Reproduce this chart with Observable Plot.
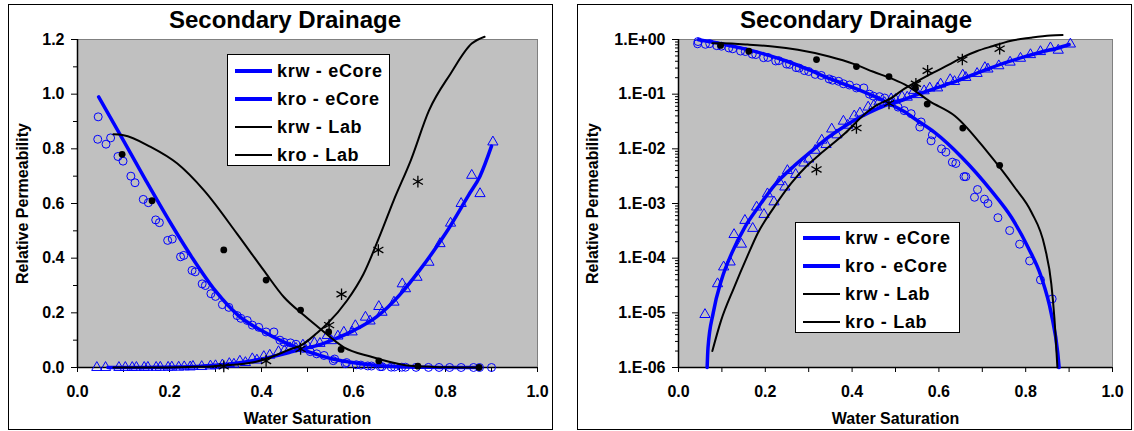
<!DOCTYPE html>
<html><head><meta charset="utf-8">
<script src="https://cdn.jsdelivr.net/npm/d3@7"></script>
<script src="https://cdn.jsdelivr.net/npm/@observablehq/plot@0.6"></script>
<style>
html,body{margin:0;padding:0;background:#fff;}
body{width:1134px;height:431px;position:relative;overflow:hidden;font-family:"Liberation Sans",Arial,sans-serif;font-weight:bold;color:#000;}
.panel{position:absolute;top:4px;height:426px;border:1px solid #000;box-sizing:border-box;}
.title{position:absolute;top:6px;font-size:24px;text-align:center;white-space:nowrap;transform:translateX(-50%);}
.chart{position:absolute;top:30px;}
.legend{position:absolute;background:#fff;border:1px solid #000;box-sizing:border-box;}
.legend .row{position:absolute;left:0;height:28px;width:100%;}
.legend .sw{position:absolute;left:7px;width:37px;top:50%;}
.legend .lab{position:absolute;left:49px;top:50%;transform:translateY(-50%);font-size:18px;white-space:nowrap;letter-spacing:0.7px;}
</style>
</head><body>
<div class="panel" style="left:8px;width:545px"></div>
<div class="panel" style="left:577px;width:555px"></div>
<div id="c1" class="chart" style="left:0px;width:560px"></div>
<div id="c2" class="chart" style="left:570px;width:564px"></div>
<script>
// ---- text ----
const chartTitle = "Secondary Drainage";
const xLabel = "Water Saturation";
const yLabel = "Relative Permeability";
const seriesNames = ["krw - eCore", "kro - eCore", "krw - Lab", "kro - Lab"];
const xTicks = [0, 0.1, 0.2, 0.3, 0.4, 0.5, 0.6, 0.7, 0.8, 0.9, 1.0];
const xTickLabels = ["0.0", "", "0.2", "", "0.4", "", "0.6", "", "0.8", "", "1.0"];
const yLinTicks = [0, 0.2, 0.4, 0.6, 0.8, 1.0, 1.2];
const yLinTickLabels = ["0.0", "0.2", "0.4", "0.6", "0.8", "1.0", "1.2"];
const yLinMinorTicks = [0.1, 0.3, 0.5, 0.7, 0.9, 1.1];
const yLogTicks = [1e-6, 1e-5, 1e-4, 1e-3, 1e-2, 1e-1, 1];
const yLogTickLabels = ["1.E-06", "1.E-05", "1.E-04", "1.E-03", "1.E-02", "1.E-01", "1.E+00"];
const yLogMinorMultipliers = [2, 3, 4, 5, 6, 7, 8, 9];

// ---- data: [water saturation, relative permeability] ----
const ecoreKrwLine = [[0.066,1e-6],[0.068,2.3e-6],[0.080,1.0e-5],[0.099,4e-5],[0.122,1.2e-4],[0.153,3.7e-4],[0.184,8.6e-4],[0.222,2.2e-3],[0.268,5e-3],[0.306,9e-3],[0.344,0.016],[0.383,0.026],[0.421,0.039],[0.46,0.055],[0.484,0.066],[0.52,0.08],[0.56,0.105],[0.6,0.135],[0.65,0.185],[0.7,0.265],[0.75,0.37],[0.8,0.49],[0.85,0.63],[0.875,0.70],[0.9,0.81]];
const ecoreKroLine = [[0.046,0.99],[0.10,0.83],[0.15,0.68],[0.20,0.535],[0.25,0.40],[0.30,0.28],[0.35,0.19],[0.40,0.135],[0.45,0.092],[0.484,0.068],[0.52,0.048],[0.55,0.033],[0.59,0.020],[0.652,0.0071],[0.721,1.7e-3],[0.767,5.6e-4],[0.805,1.6e-4],[0.836,4.5e-5],[0.859,9.6e-6],[0.874,1.8e-6],[0.877,1e-6]];
const labKrwLine = [[0.078,2e-6],[0.098,7.2e-6],[0.128,2.9e-5],[0.159,1.1e-4],[0.182,2.8e-4],[0.220,8.5e-4],[0.259,2.3e-3],[0.297,5.0e-3],[0.322,7.5e-3],[0.383,0.019],[0.43,0.044],[0.46,0.065],[0.485,0.080],[0.52,0.125],[0.543,0.16],[0.586,0.245],[0.622,0.343],[0.659,0.49],[0.687,0.61],[0.725,0.76],[0.764,0.94],[0.811,1.075],[0.857,1.185],[0.885,1.21]];
const labKroLine = [[0.078,0.853],[0.10,0.85],[0.159,0.807],[0.217,0.746],[0.275,0.648],[0.347,0.489],[0.405,0.355],[0.449,0.257],[0.493,0.19],[0.528,0.141],[0.579,0.074],[0.637,0.040],[0.713,0.0085],[0.774,2.0e-3],[0.813,7e-4],[0.844,1.6e-4],[0.859,3.4e-5],[0.866,8.3e-6],[0.873,1e-6]];
const labKroPoints = [[0.097,0.78],[0.162,0.61],[0.318,0.43],[0.41,0.32],[0.485,0.21],[0.546,0.13],[0.573,0.066],[0.655,0.024],[0.74,0.005],[0.873,0]];
const labKrwPoints = [[0.318,0.0042],[0.41,0.024],[0.485,0.068],[0.547,0.155],[0.574,0.268],[0.654,0.43],[0.74,0.68]];
const ecoreKroPoints = [[0.045,0.917],[0.044,0.835],[0.062,0.817],[0.072,0.84],[0.088,0.772],[0.099,0.755],[0.116,0.70],[0.125,0.676],[0.143,0.615],[0.154,0.603],[0.170,0.54],[0.178,0.53],[0.196,0.465],[0.206,0.47],[0.224,0.405],[0.231,0.41],[0.249,0.355],[0.256,0.35],[0.271,0.306],[0.278,0.30],[0.290,0.27],[0.300,0.26],[0.315,0.23],[0.329,0.22],[0.347,0.19],[0.355,0.18],[0.369,0.172],[0.38,0.155],[0.394,0.147],[0.41,0.13],[0.427,0.13],[0.44,0.10],[0.449,0.092],[0.463,0.09],[0.475,0.085],[0.49,0.07],[0.506,0.058],[0.52,0.05],[0.536,0.044],[0.556,0.025],[0.559,0.031],[0.582,0.014],[0.585,0.018],[0.606,0.010],[0.616,0.0087],[0.631,0.0057],[0.639,0.0054],[0.658,0.0031],[0.662,0.0031],[0.682,0.0013],[0.689,0.0018],[0.705,0.0012],[0.713,0.001],[0.736,5.5e-4],[0.763,3.2e-4],[0.786,1.8e-4],[0.809,8.9e-5],[0.834,4.0e-5],[0.861,1.8e-5],[0.874,0],[0.90,0]];
const ecoreKrwPoints = [[0.042,0],[0.061,9.3e-6],[0.090,3.4e-5],[0.104,6.9e-5],[0.119,8.5e-5],[0.128,2.7e-4],[0.145,1.8e-4],[0.153,4.9e-4],[0.171,3.5e-4],[0.180,8.6e-4],[0.197,6.3e-4],[0.205,1.5e-3],[0.220,1.07e-3],[0.232,2.5e-3],[0.245,2.0e-3],[0.251,4.0e-3],[0.270,3.4e-3],[0.289,5.5e-3],[0.30,6.5e-3],[0.315,9.4e-3],[0.33,0.0144],[0.34,0.012],[0.353,0.023],[0.365,0.018],[0.38,0.032],[0.39,0.027],[0.405,0.04],[0.418,0.045],[0.437,0.058],[0.45,0.062],[0.462,0.072],[0.475,0.07],[0.49,0.082],[0.50,0.08],[0.515,0.09],[0.527,0.088],[0.543,0.117],[0.552,0.098],[0.566,0.115],[0.579,0.129],[0.597,0.13],[0.604,0.153],[0.626,0.184],[0.636,0.17],[0.655,0.223],[0.662,0.202],[0.688,0.239],[0.706,0.306],[0.713,0.288],[0.738,0.33],[0.764,0.385],[0.788,0.453],[0.811,0.528],[0.834,0.60],[0.857,0.703],[0.875,0.636],[0.903,0.825]];

const BLUE = "#0000ff";
const font = "'Liberation Sans', Arial, sans-serif";

function chart(isLog, cfg) {
  const keep = d => !isLog || d[1] > 0;
  const yMin = isLog ? 1e-6 : 0;
  const yMinor = isLog
    ? d3.range(-6, 0).flatMap(e => yLogMinorMultipliers.map(m => m * Math.pow(10, e)))
    : yLinMinorTicks;
  const yMajor = isLog ? yLogTicks : yLinTicks;
  const yFmt = isLog
    ? d => yLogTickLabels[Math.round(Math.log10(d)) + 6]
    : d => yLinTickLabels[Math.round(d * 5)];
  const X = d => d[0], Y = d => d[1];
  return Plot.plot({
    width: cfg.width, height: 401,
    marginLeft: cfg.marginLeft, marginRight: cfg.marginRight, marginTop: 9, marginBottom: 64,
    style: {fontFamily: font, fontWeight: "bold", fontSize: "16px", background: "none", overflow: "visible", color: "#000"},
    x: {domain: [0, 1]},
    y: isLog ? {type: "log", domain: [1e-6, 1]} : {domain: [0, 1.2]},
    marks: [
      Plot.frame({fill: "#c0c0c0", stroke: "#808080", strokeWidth: 1}),
      Plot.axisX({ticks: xTicks, tickSize: 5, tickPadding: 13, tickFormat: d => xTickLabels[Math.round(d * 10)],
        label: xLabel, labelAnchor: "center", labelOffset: 56, labelArrow: "none", stroke: "#000"}),
      Plot.axisY({ticks: yMinor, tickSize: isLog ? 3 : 4, tickFormat: () => "", label: null, stroke: "#000"}),
      Plot.axisY({ticks: yMajor, tickSize: 6, tickPadding: 7, tickFormat: yFmt,
        label: yLabel, labelAnchor: "center", labelOffset: cfg.labelOffset, labelArrow: "none", stroke: "#000"}),
      Plot.ruleX([0], {stroke: "#000", strokeWidth: 1.5}),
      Plot.ruleY([yMin], {stroke: "#000", strokeWidth: 1.5}),
      Plot.line(ecoreKrwLine.filter(keep), {x: X, y: Y, stroke: BLUE, strokeWidth: 3.5, curve: "monotone-x"}),
      Plot.line(ecoreKroLine.filter(keep), {x: X, y: Y, stroke: BLUE, strokeWidth: 3.5, curve: "monotone-x"}),
      Plot.dot(ecoreKroPoints.filter(keep), {x: X, y: Y, r: 4, symbol: "circle", stroke: BLUE, strokeWidth: 1, fill: "none"}),
      Plot.dot(ecoreKrwPoints.filter(keep), {x: X, y: Y, r: 3.8, symbol: "triangle", stroke: BLUE, strokeWidth: 1, fill: "none"}),
      Plot.line(labKrwLine.filter(keep), {x: X, y: Y, stroke: "#000", strokeWidth: 2, curve: "monotone-x"}),
      Plot.line(labKroLine.filter(keep), {x: X, y: Y, stroke: "#000", strokeWidth: 2, curve: "monotone-x"}),
      Plot.dot(labKroPoints.filter(keep), {x: X, y: Y, r: 3.4, fill: "#000", stroke: "none"}),
      Plot.dot(labKrwPoints.filter(keep), {x: X, y: Y, r: 5.5, symbol: "asterisk", stroke: "#000", strokeWidth: 1.3})
    ]
  });
}

function addTitle(cx) {
  const t = document.createElement("div");
  t.className = "title"; t.style.left = cx + "px"; t.textContent = chartTitle;
  document.body.appendChild(t);
}
function addLegend(box) {
  const lg = document.createElement("div");
  lg.className = "legend";
  Object.assign(lg.style, {left: box.x + "px", top: box.y + "px", width: box.w + "px", height: box.h + "px"});
  const swatches = [{c: BLUE, w: 4}, {c: BLUE, w: 4}, {c: "#000", w: 2.5}, {c: "#000", w: 2.5}];
  seriesNames.forEach((name, i) => {
    const row = document.createElement("div");
    row.className = "row"; row.style.top = (box.first - 14 + i * 28) + "px";
    const sw = document.createElement("div");
    sw.className = "sw"; sw.style.height = swatches[i].w + "px"; sw.style.background = swatches[i].c;
    sw.style.marginTop = (-swatches[i].w / 2) + "px";
    const lab = document.createElement("div");
    lab.className = "lab"; lab.textContent = name;
    row.appendChild(sw); row.appendChild(lab); lg.appendChild(row);
  });
  document.body.appendChild(lg);
}

document.getElementById("c1").appendChild(chart(false, {width: 560, marginLeft: 77, marginRight: 23, labelOffset: 61}));
document.getElementById("c2").appendChild(chart(true, {width: 564, marginLeft: 108, marginRight: 22, labelOffset: 92}));
addTitle(285); addTitle(856);
addLegend({x: 227, y: 54, w: 163, h: 112, first: 16});
addLegend({x: 795, y: 222, w: 165, h: 111, first: 15});
</script>
</body></html>
